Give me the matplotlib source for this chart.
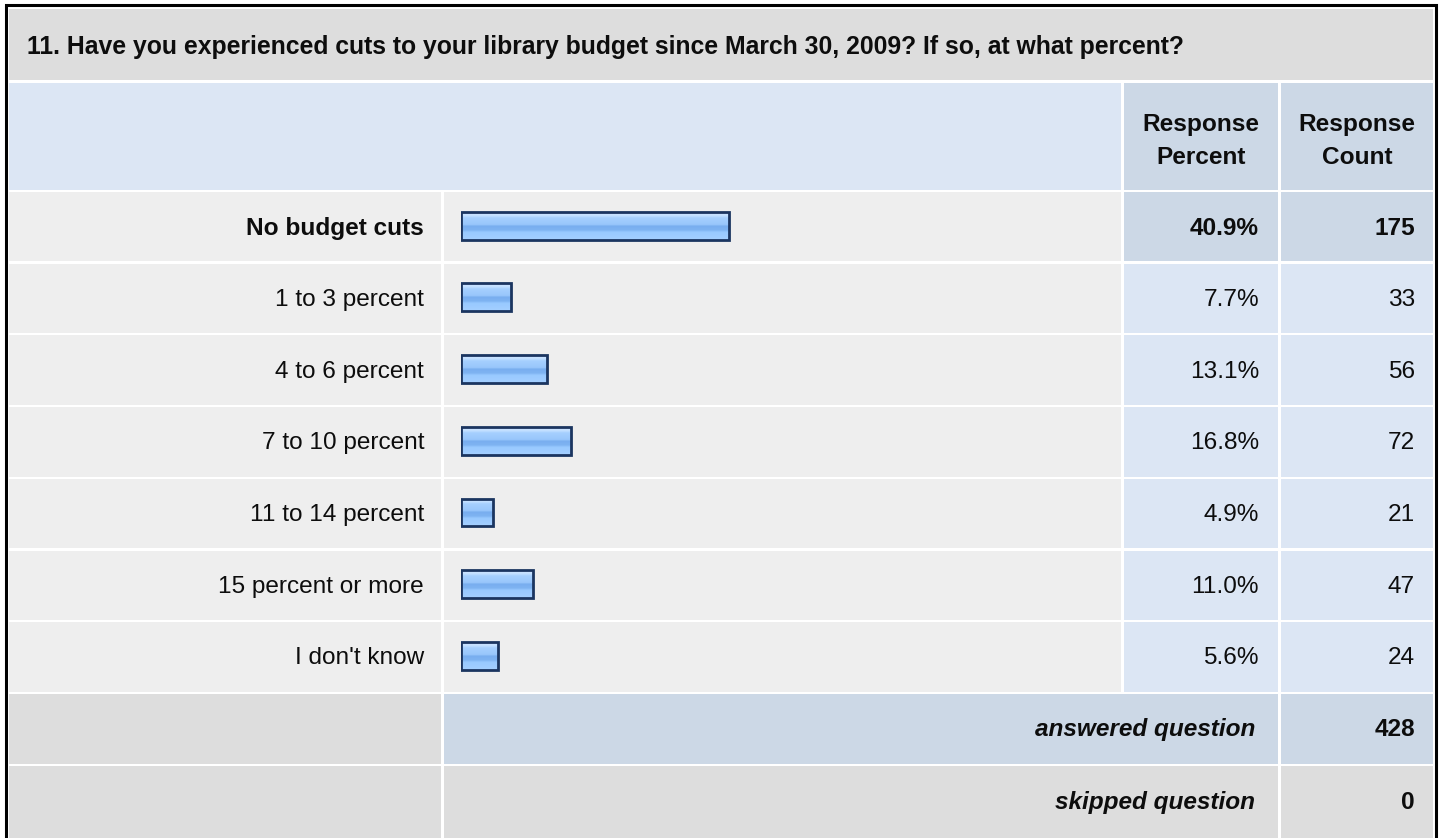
import numpy as np
import matplotlib
matplotlib.use("Agg")
import matplotlib.pyplot as plt
from matplotlib.patches import Rectangle
from matplotlib.colors import LinearSegmentedColormap

plt.rcParams['font.family'] = ['Liberation Sans', 'DejaVu Sans']

title = "11. Have you experienced cuts to your library budget since March 30, 2009? If so, at what percent?"
categories = ["No budget cuts", "1 to 3 percent", "4 to 6 percent", "7 to 10 percent",
              "11 to 14 percent", "15 percent or more", "I don't know"]
percents = [40.9, 7.7, 13.1, 16.8, 4.9, 11.0, 5.6]
counts = [175, 33, 56, 72, 21, 47, 24]
answered = 428
skipped = 0

GRAY = "#dddddd"
ROWBG = "#eeeeee"
LBLUE = "#dce6f4"
DBLUE = "#ccd8e6"
TXT = "#0d0d0d"
FS = 17.6

W, H = 1440, 838
fig = plt.figure(figsize=(W / 100, H / 100), dpi=100)
ax = fig.add_axes([0, 0, 1, 1])
ax.set_xlim(0, W)
ax.set_ylim(H, 0)
ax.axis("off")


def cell(x0, x1, y0, y1, color):
    ax.add_patch(Rectangle((x0, y0), x1 - x0, y1 - y0, facecolor=color, edgecolor="none"))


# outer frame
ax.add_patch(Rectangle((5.5, 5.5), 1430, 860, facecolor="white", edgecolor="black", lw=2.2))

# column edges
cL = (9, 441)
cB = (444, 1121)
cP = (1124, 1278)
cC = (1281, 1433)

# title row
cell(9, 1433, 9, 80, GRAY)
ax.text(27, 47, title, fontsize=FS + 0.2, fontweight="bold", color=TXT, va="center", ha="left")

# header row
cell(9, 1121, 83, 190, LBLUE)
cell(cP[0], cP[1], 83, 190, DBLUE)
cell(cC[0], cC[1], 83, 190, DBLUE)
for c, lab in [(cP, "Response\nPercent"), (cC, "Response\nCount")]:
    ax.text((c[0] + c[1]) / 2, 141, lab, fontsize=FS, fontweight="bold", color=TXT,
            ha="center", va="center", linespacing=1.6)

# data rows
top0, pitch = 192, 71.7
n = len(categories)
best = int(np.argmax(percents))
for i, (cat, p, cnt) in enumerate(zip(categories, percents, counts)):
    y0 = top0 + i * pitch
    y1 = y0 + pitch - 2.3
    yc = (y0 + y1) / 2 + 1.5
    cell(cL[0], cL[1], y0, y1, ROWBG)
    cell(cB[0], cB[1], y0, y1, ROWBG)
    hi = i == best
    cell(cP[0], cP[1], y0, y1, DBLUE if hi else LBLUE)
    cell(cC[0], cC[1], y0, y1, DBLUE if hi else LBLUE)
    fw = "bold" if hi else "normal"
    ax.text(424, yc, cat, fontsize=FS, fontweight=fw, color=TXT, ha="right", va="center")
    ax.text(1259, yc, f"{p:.1f}%", fontsize=FS, fontweight=fw, color=TXT, ha="right", va="center")
    ax.text(1415, yc, str(cnt), fontsize=FS, fontweight=fw, color=TXT, ha="right", va="center")

# summary rows
ya0 = top0 + n * pitch
cell(cL[0], cL[1], ya0, ya0 + 70, GRAY)
cell(cB[0], cP[1], ya0, ya0 + 70, DBLUE)
cell(cC[0], cC[1], ya0, ya0 + 70, DBLUE)
ax.text(1255, ya0 + 36, "answered question", fontsize=FS, fontweight="bold", style="italic",
        color=TXT, ha="right", va="center")
ax.text(1415, ya0 + 36, str(answered), fontsize=FS, fontweight="bold", color=TXT,
        ha="right", va="center")
ys0 = ya0 + 72.5
cell(cL[0], cL[1], ys0, H + 5, GRAY)
cell(cB[0], cP[1], ys0, H + 5, GRAY)
cell(cC[0], cC[1], ys0, H + 5, GRAY)
ax.text(1255, ys0 + 36, "skipped question", fontsize=FS, fontweight="bold", style="italic",
        color=TXT, ha="right", va="center")
ax.text(1415, ys0 + 36, str(skipped), fontsize=FS, fontweight="bold", color=TXT,
        ha="right", va="center")

# bar axes over the bar column
bx0, bx1 = 461, 1116
bax = fig.add_axes([bx0 / W, 1 - (top0 + n * pitch) / H, (bx1 - bx0) / W, n * pitch / H])
bax.set_xlim(0, 100)
bax.set_ylim(n - 0.5 + 0.03, -0.5 + 0.03)
bax.axis("off")
bax.patch.set_alpha(0)

cmap = LinearSegmentedColormap.from_list(
    "bar", [(0, "#cfe6ff"), (0.12, "#c4e0ff"), (0.2, "#a6d0ff"), (0.45, "#98c6fb"),
            (0.5, "#78adef"), (0.65, "#7fb4f2"), (0.72, "#98c9ff"), (1, "#a4cfff")])
grad = np.linspace(0, 1, 64).reshape(-1, 1)
bars = bax.barh(range(n), percents, height=0.39, color="none", edgecolor="#1b3560", lw=2.0, zorder=3)
for b in bars:
    x, y = b.get_x(), b.get_y()
    w, h = b.get_width(), b.get_height()
    im = bax.imshow(grad, cmap=cmap, aspect="auto", extent=(x, x + w, y + h, y), zorder=2,
                    interpolation="bilinear")
    im.set_clip_path(b)

fig.savefig("out.png", dpi=100, facecolor="white")
